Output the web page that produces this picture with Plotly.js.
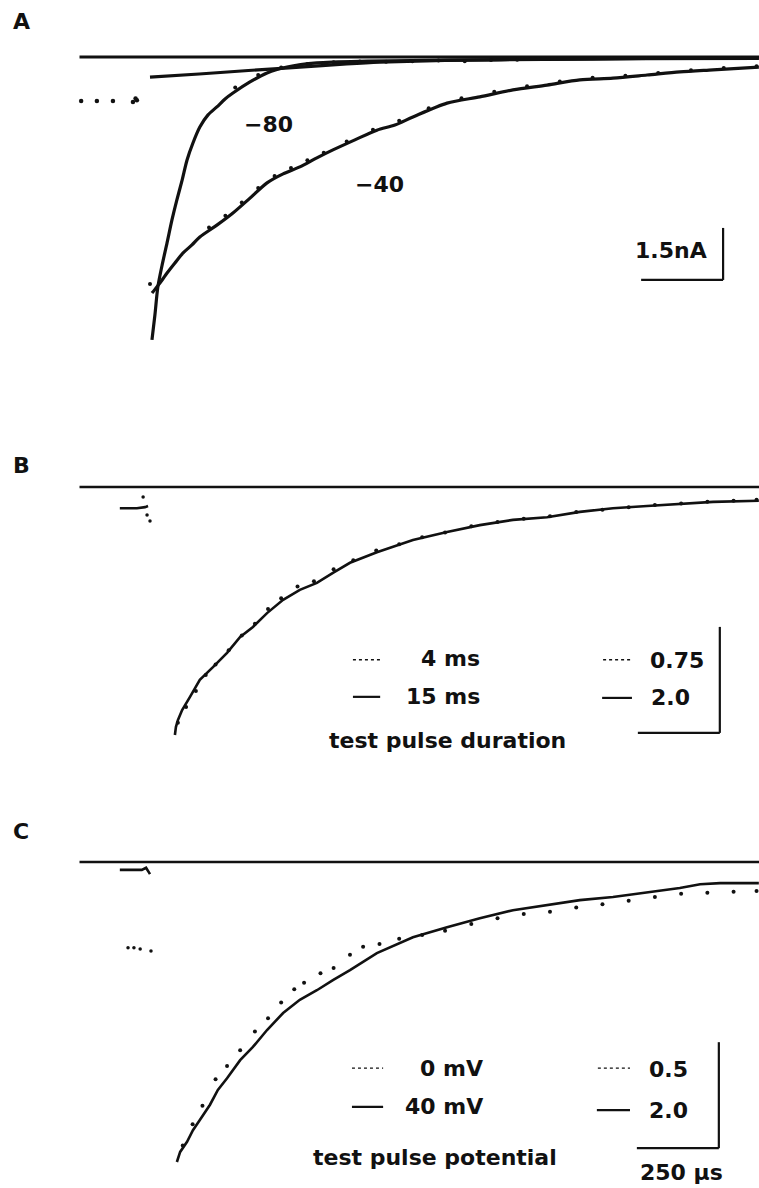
<!DOCTYPE html>
<html><head><meta charset="utf-8">
<script src="https://cdn.plot.ly/plotly-3.0.1.min.js"></script>
<style>html,body{margin:0;padding:0;background:#fff}#chart{width:759px;height:1188px}</style>
</head><body><div id="chart"></div>
<script>
// time in microseconds, current in nA (panel A) or scaled units (panels B, C)
const baselineX = [-215, 1860];
const baselineY = [0, 0];

// ---- Panel A ----
const aPreX = [-210, -162, -113, -52, -44, -40];
const aPreY = [-1.27, -1.27, -1.27, -1.30, -1.20, -1.25];

const aM80X = [6, 15, 24, 37, 52, 67, 82, 98, 113, 131, 152, 177, 204, 229, 253, 305, 357, 418, 509, 662, 915, 1220, 1525, 1857];
const aM80Y = [-8.16, -7.44, -6.63, -6.0, -5.36, -4.70, -4.12, -3.55, -2.97, -2.48, -2.02, -1.67, -1.44, -1.21, -1.04, -0.72, -0.46, -0.29, -0.17, -0.12, -0.09, -0.06, -0.04, -0.03];
const aM80PtsX = [0, 260, 330, 400, 480, 560, 640, 720, 800, 880, 960, 1040, 1120];
const aM80PtsY = [-6.55, -0.88, -0.52, -0.30, -0.20, -0.15, -0.13, -0.14, -0.12, -0.10, -0.12, -0.09, -0.08];

const aFitX = [0, 150, 300, 457, 600, 701, 900, 1200, 1500, 1857];
const aFitY = [-0.58, -0.49, -0.39, -0.29, -0.20, -0.15, -0.10, -0.07, -0.05, -0.04];

const aM40X = [6, 21, 37, 52, 76, 101, 128, 152, 204, 253, 305, 357, 406, 457, 509, 558, 625, 692, 747, 802, 906, 1006, 1107, 1211, 1311, 1412, 1516, 1616, 1717, 1857];
const aM40Y = [-6.81, -6.63, -6.43, -6.23, -5.94, -5.65, -5.42, -5.19, -4.85, -4.50, -4.07, -3.63, -3.37, -3.17, -2.91, -2.68, -2.39, -2.11, -1.96, -1.73, -1.33, -1.15, -0.95, -0.81, -0.66, -0.61, -0.52, -0.43, -0.37, -0.29];
const aM40PtsX = [180, 230, 280, 330, 380, 430, 480, 530, 600, 680, 760, 850, 950, 1050, 1150, 1250, 1350, 1450, 1550, 1650, 1750, 1850];
const aM40PtsY = [-4.92, -4.58, -4.20, -3.78, -3.43, -3.20, -2.98, -2.76, -2.44, -2.10, -1.84, -1.48, -1.19, -1.00, -0.84, -0.71, -0.60, -0.54, -0.46, -0.38, -0.32, -0.27];

// ---- Panel B ----
const bPreSolidX = [-92, -40, -15, -6];
const bPreSolidY = [-0.40, -0.40, -0.38, -0.36];
const bPreDotX = [-21, -9, 0];
const bPreDotY = [-0.19, -0.53, -0.64];

const bSolidX = [76, 79, 85, 98, 122, 152, 192, 235, 275, 314, 357, 406, 457, 509, 558, 610, 692, 802, 906, 1006, 1107, 1211, 1311, 1412, 1516, 1616, 1717, 1857];
const bSolidY = [-4.68, -4.53, -4.40, -4.21, -3.96, -3.64, -3.40, -3.13, -2.83, -2.64, -2.38, -2.13, -1.94, -1.81, -1.62, -1.43, -1.23, -1.00, -0.85, -0.72, -0.62, -0.57, -0.47, -0.40, -0.36, -0.32, -0.28, -0.26];
const bDotX = [85, 110, 140, 170, 200, 240, 280, 320, 360, 400, 450, 500, 560, 620, 690, 760, 830, 900, 980, 1060, 1140, 1220, 1300, 1380, 1460, 1540, 1620, 1700, 1780, 1850];
const bDotY = [-4.45, -4.15, -3.85, -3.55, -3.35, -3.08, -2.80, -2.58, -2.30, -2.10, -1.88, -1.78, -1.55, -1.38, -1.20, -1.08, -0.95, -0.86, -0.74, -0.66, -0.60, -0.55, -0.47, -0.43, -0.38, -0.34, -0.31, -0.28, -0.26, -0.24];

// ---- Panel C ----
const cPreSolidX = [-92, -25, -12, -3, 0];
const cPreSolidY = [-0.15, -0.15, -0.11, -0.20, -0.23];
const cPreDotX = [-67, -49, -30, 3];
const cPreDotY = [-1.62, -1.62, -1.64, -1.68];

const cSolidX = [82, 92, 113, 131, 152, 183, 207, 235, 275, 314, 357, 406, 457, 509, 558, 610, 692, 802, 906, 1006, 1107, 1211, 1311, 1412, 1516, 1616, 1678, 1739, 1857];
const cSolidY = [-5.66, -5.47, -5.28, -5.06, -4.87, -4.58, -4.30, -4.08, -3.74, -3.49, -3.17, -2.85, -2.60, -2.42, -2.23, -2.04, -1.72, -1.42, -1.23, -1.06, -0.91, -0.81, -0.72, -0.66, -0.58, -0.49, -0.42, -0.40, -0.40];
const cDotX = [100, 130, 160, 200, 235, 275, 320, 360, 400, 440, 470, 520, 560, 610, 650, 700, 760, 830, 900, 980, 1060, 1140, 1220, 1300, 1380, 1460, 1540, 1620, 1700, 1780, 1850];
const cDotY = [-5.35, -4.95, -4.60, -4.10, -3.85, -3.55, -3.20, -2.95, -2.65, -2.40, -2.28, -2.10, -2.00, -1.75, -1.60, -1.55, -1.45, -1.38, -1.30, -1.17, -1.06, -0.98, -0.94, -0.86, -0.80, -0.73, -0.66, -0.60, -0.58, -0.56, -0.55];

// scale bars
const scaleTime = 250;      // µs
const scaleCurA = 1.5;      // nA
const scaleCurBC = 2.0;     // units of solid traces

const FONT = 'DejaVu Sans, Liberation Sans, Arial, sans-serif';
const K = '#111';

function line(x, y, ax, w, smooth) {
  return {x, y, xaxis: 'x' + ax, yaxis: 'y' + ax, type: 'scatter', mode: 'lines',
    line: {color: K, width: w, shape: smooth ? 'spline' : 'linear', smoothing: 0.8},
    hoverinfo: 'skip', showlegend: false};
}
function dots(x, y, ax, s) {
  return {x, y, xaxis: 'x' + ax, yaxis: 'y' + ax, type: 'scatter', mode: 'markers',
    marker: {color: K, size: s}, hoverinfo: 'skip', showlegend: false};
}

const data = [
  line(baselineX, baselineY, '', 3),
  dots(aPreX, aPreY, '', 4.5),
  line(aFitX, aFitY, '', 3.2, true),
  line(aM80X, aM80Y, '', 3.2, true),
  dots(aM80PtsX, aM80PtsY, '', 4),
  line(aM40X, aM40Y, '', 3.2, true),
  dots(aM40PtsX, aM40PtsY, '', 4),

  line(baselineX, baselineY, '2', 2.6),
  line(bPreSolidX, bPreSolidY, '2', 2.6),
  dots(bPreDotX, bPreDotY, '2', 3.5),
  line(bSolidX, bSolidY, '2', 2.6),
  dots(bDotX, bDotY, '2', 4),

  line(baselineX, baselineY, '3', 2.6),
  line(cPreSolidX, cPreSolidY, '3', 2.6),
  dots(cPreDotX, cPreDotY, '3', 3.5),
  line(cSolidX, cSolidY, '3', 2.6),
  dots(cDotX, cDotY, '3', 4)
];

const XR = [-457.5, 1857.5];
function hid(extra) {
  return Object.assign({visible: false, showgrid: false, zeroline: false, fixedrange: true}, extra);
}

function seg(ax, x0, y0, x1, y1, w, dash) {
  return {type: 'line', xref: 'x' + ax, yref: 'y' + ax, x0, y0, x1, y1,
    line: {color: K, width: w, dash: dash || 'solid'}};
}
function txt(ax, x, y, t, xa, size) {
  return {xref: 'x' + ax, yref: 'y' + ax, x, y, text: '<b>' + t + '</b>', showarrow: false,
    xanchor: xa || 'center', yanchor: 'middle', font: {family: FONT, size: size || 22, color: K}};
}
function ptxt(x, y, t) {
  return {xref: 'paper', yref: 'paper', x, y, text: '<b>' + t + '</b>', showarrow: false,
    xanchor: 'center', yanchor: 'middle', font: {family: FONT, size: 22, color: K}};
}

const barRightA = 1748, barLowA = -6.43;
const barRightB = 1738, barLowB = -4.64;
const barRightC = 1735, barLowC = -5.40;

const shapes = [
  seg('', barRightA - scaleTime, barLowA, barRightA, barLowA, 2.2),
  seg('', barRightA, barLowA, barRightA, barLowA + scaleCurA, 2.2),
  seg('2', barRightB - scaleTime, barLowB, barRightB, barLowB, 2.2),
  seg('2', barRightB, barLowB, barRightB, barLowB + scaleCurBC, 2.2),
  seg('3', barRightC - scaleTime, barLowC, barRightC, barLowC, 2.2),
  seg('3', barRightC, barLowC, barRightC, barLowC + scaleCurBC, 2.2),
  seg('2', 619, -3.26, 702, -3.26, 1.3, 'dot'),
  seg('2', 619, -3.96, 702, -3.96, 2.2),
  seg('2', 1382, -3.26, 1470, -3.26, 1.3, 'dot'),
  seg('2', 1379, -3.98, 1470, -3.98, 2.2),
  seg('3', 616, -3.89, 711, -3.89, 1.3, 'dot'),
  seg('3', 616, -4.62, 711, -4.62, 2.2),
  seg('3', 1366, -3.89, 1464, -3.89, 1.3, 'dot'),
  seg('3', 1363, -4.68, 1464, -4.68, 2.2)
];

const annotations = [
  ptxt(0.028, 0.9815, 'A'),
  ptxt(0.028, 0.6085, 'B'),
  ptxt(0.028, 0.3005, 'C'),
  txt('', 360, -1.96, '\u221280'),
  txt('', 701, -3.69, '\u221240'),
  txt('', 1589, -5.57, '1.5nA'),
  txt('2', 1013, -3.24, '4 ms', 'right'),
  txt('2', 1013, -3.96, '15 ms', 'right'),
  txt('2', 1519, -3.28, '0.75', 'left'),
  txt('2', 1522, -3.98, '2.0', 'left'),
  txt('2', 906, -4.79, 'test pulse duration'),
  txt('3', 1022, -3.89, '0 mV', 'right'),
  txt('3', 1022, -4.62, '40 mV', 'right'),
  txt('3', 1516, -3.92, '0.5', 'left'),
  txt('3', 1516, -4.68, '2.0', 'left'),
  txt('3', 869, -5.58, 'test pulse potential'),
  txt('3', 1620, -5.85, '250 \u00b5s')
];

const layout = {
  width: 759, height: 1188,
  margin: {l: 0, r: 0, t: 0, b: 0, pad: 0},
  paper_bgcolor: '#fff', plot_bgcolor: 'rgba(0,0,0,0)',
  showlegend: false,
  xaxis: hid({range: XR, anchor: 'y', domain: [0, 1]}),
  yaxis: hid({range: [-9.317, 1.644], anchor: 'x', domain: [0.6801, 1]}),
  xaxis2: hid({range: XR, anchor: 'y2', domain: [0, 1]}),
  yaxis2: hid({range: [-5.151, 1.830], anchor: 'x2', domain: [0.3603, 0.6717]}),
  xaxis3: hid({range: XR, anchor: 'y3', domain: [0, 1]}),
  yaxis3: hid({range: [-6.151, 1.736], anchor: 'x3', domain: [0, 0.3519]}),
  shapes, annotations
};

Plotly.newPlot('chart', data, layout, {staticPlot: true, displayModeBar: false});
</script></body></html>
